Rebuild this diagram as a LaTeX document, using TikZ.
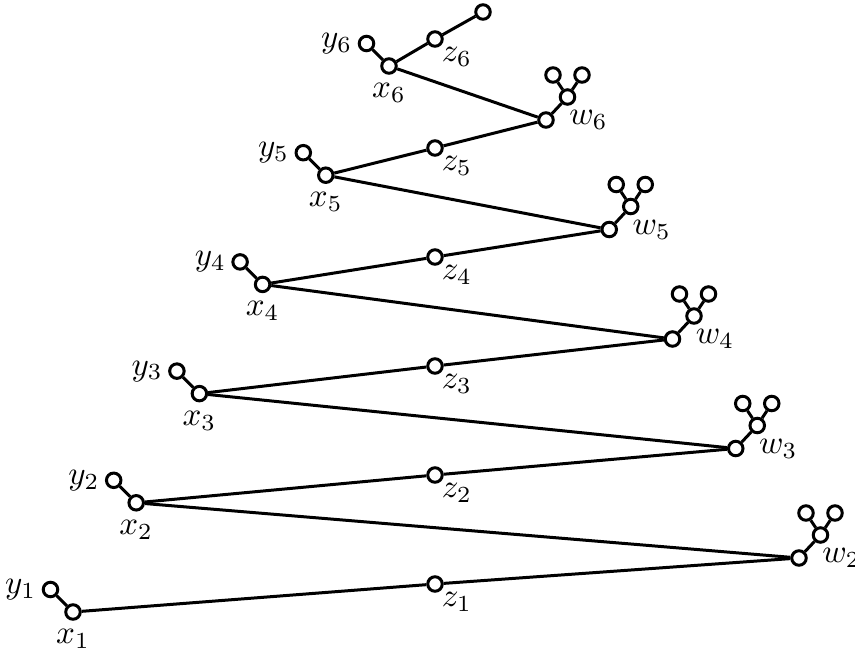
\documentclass[tikz,border=0pt]{standalone}
\usepackage{graphicx}
\usetikzlibrary{calc}
\newcommand{\lbl}[1]{\scalebox{3.3}{$#1$}}
\begin{document}
\begin{tikzpicture}[x=1pt,y=-1pt,
  v/.style={circle,draw,line width=3pt,minimum size=14.5pt,inner sep=0pt,fill=white},
  e/.style={line width=3pt}]
\useasboundingbox (0,0) rectangle (855,654);
% x_i, y_i, z_i
\foreach \i in {1,...,6}{
  \node[v,label={[label distance=5pt]below:\lbl{x_{\i}}}] (x\i) at ({73+63.2*(\i-1)},{612-109.2*(\i-1)}) {};
  \node[v,label={[label distance=2pt]left:\lbl{y_{\i}}}] (y\i) at ($(x\i)+(-22.5,-22.5)$) {};
  \node[v,label={[label distance=-3pt]-55:\lbl{z_{\i}}}] (z\i) at ({435},{584-109*(\i-1)}) {};
}
% w_i with their two-leaf trees
\foreach \i in {2,...,6}{
  \node[v,label={[label distance=11pt]right:\lbl{w_{\i}}}] (w\i) at ({799-63.25*(\i-2)},{558-109.5*(\i-2)}) {};
  \node[v] (c\i) at ($(w\i)+(21.5,-23)$) {};
  \node[v] (a\i) at ($(c\i)+(-14.5,-22)$) {};
  \node[v] (b\i) at ($(c\i)+(14.5,-22)$) {};
}
\node[v] (t) at (483,12) {};
% edges
\foreach \i in {1,...,6}{
  \draw[e] (x\i) -- (y\i);
  \draw[e] (x\i) -- (z\i);
}
\foreach \i/\j in {1/2,2/3,3/4,4/5,5/6}{
  \draw[e] (z\i) -- (w\j);
}
\foreach \i in {2,...,6}{
  \draw[e] (w\i) -- (x\i);
  \draw[e] (w\i) -- (c\i);
  \draw[e] (c\i) -- (a\i);
  \draw[e] (c\i) -- (b\i);
}
\draw[e] (z6) -- (t);
\end{tikzpicture}
\end{document}
